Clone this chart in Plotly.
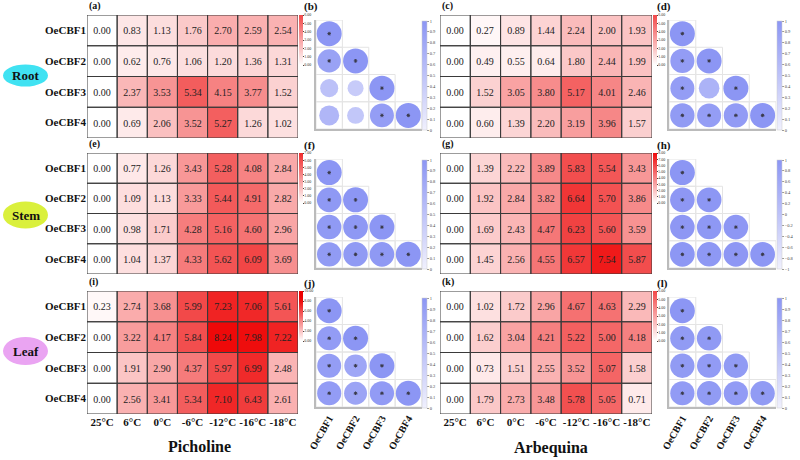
import plotly.graph_objects as go
import numpy as np

temps = ["25°C", "6°C", "0°C", "-6°C", "-12°C", "-16°C", "-18°C"]
genes = ["OeCBF1", "OeCBF2", "OeCBF3", "OeCBF4"]

# ---- expression data (rows = OeCBF1..4, cols = temps) ----
root_picholine = [[0.00, 0.83, 1.13, 1.76, 2.70, 2.59, 2.54],
                  [0.00, 0.62, 0.76, 1.06, 1.20, 1.36, 1.31],
                  [0.00, 2.37, 3.53, 5.34, 4.15, 3.77, 1.52],
                  [0.00, 0.69, 2.06, 3.52, 5.27, 1.26, 1.02]]
root_arbequina = [[0.00, 0.27, 0.89, 1.44, 2.24, 2.00, 1.93],
                  [0.00, 0.49, 0.55, 0.64, 1.80, 2.44, 1.99],
                  [0.00, 1.52, 3.05, 3.80, 5.17, 4.01, 2.46],
                  [0.00, 0.60, 1.39, 2.20, 3.19, 3.96, 1.57]]
stem_picholine = [[0.00, 0.77, 1.26, 3.43, 5.28, 4.08, 2.84],
                  [0.00, 1.09, 1.13, 3.33, 5.44, 4.91, 2.82],
                  [0.00, 0.98, 1.71, 4.28, 5.16, 4.60, 2.96],
                  [0.00, 1.04, 1.37, 4.33, 5.62, 6.09, 3.69]]
stem_arbequina = [[0.00, 1.39, 2.22, 3.89, 5.83, 5.54, 3.43],
                  [0.00, 1.92, 2.84, 3.82, 6.64, 5.70, 3.86],
                  [0.00, 1.69, 2.43, 4.47, 6.23, 5.60, 3.59],
                  [0.00, 1.45, 2.56, 4.55, 6.57, 7.54, 5.87]]
leaf_picholine = [[0.23, 2.74, 3.68, 5.99, 7.23, 7.06, 5.61],
                  [0.00, 3.22, 4.17, 5.84, 8.24, 7.98, 7.22],
                  [0.00, 1.91, 2.90, 4.37, 5.97, 6.99, 2.48],
                  [0.00, 2.56, 3.41, 5.34, 7.10, 6.43, 2.61]]
leaf_arbequina = [[0.00, 1.02, 1.72, 2.96, 4.67, 4.63, 2.29],
                  [0.00, 1.62, 3.04, 4.21, 5.22, 5.00, 4.18],
                  [0.00, 0.73, 1.51, 2.55, 3.52, 5.07, 1.58],
                  [0.00, 1.79, 2.73, 3.48, 5.78, 5.05, 0.71]]

# colorbar maxima of the heatmaps
zmax_values = {"a": 6, "c": 6, "e": 7, "g": 8, "i": 10, "k": 6}
zmax_dtick = {"a": 1, "c": 1, "e": 1, "g": 1, "i": 2, "k": 1}

# ---- correlation data (lower triangle incl. diagonal) ----
corr_b = [[1.0], [0.87, 1.0], [0.52, 0.41, 1.0], [0.64, 0.46, 0.92, 1.0]]
sig_b = [[1], [1, 1], [0, 0, 1], [0, 0, 1, 1]]
corr_d = [[1.0], [0.93, 1.0], [0.92, 0.68, 1.0], [0.95, 0.92, 0.94, 1.0]]
sig_d = [[1], [1, 1], [1, 0, 1], [1, 1, 1, 1]]
corr_f = [[1.0], [0.97, 1.0], [0.96, 0.98, 1.0], [0.95, 0.96, 0.97, 1.0]]
sig_f = [[1], [1, 1], [1, 1, 1], [1, 1, 1, 1]]
corr_h = [[1.0], [0.97, 0.98], [0.97, 0.96, 0.97], [0.98, 0.96, 0.97, 0.98]]
sig_h = [[1], [1, 1], [1, 1, 1], [1, 1, 1, 1]]
corr_j = [[1.0], [0.93, 1.0], [0.92, 0.82, 1.0], [0.93, 0.84, 0.94, 1.0]]
sig_j = [[1], [1, 1], [1, 1, 1], [1, 1, 1, 1]]
corr_l = [[1.0], [0.95, 0.96], [0.95, 0.94, 0.95], [0.94, 0.95, 0.94, 0.95]]
sig_l = [[1], [1, 1], [1, 1, 1], [1, 1, 1, 1]]
corr_ranges = {"b": (0, 1, 0.1), "d": (0, 1, 0.1), "f": (0, 1, 0.1),
               "h": (-1, 1, 0.2), "j": (0, 1, 0.1), "l": (0, 1, 0.1)}

W, H = 800, 460
SERIF = "Liberation Serif, Times New Roman, serif"


def px(x):
    return x / W


def py(y):
    return 1 - y / H


def red_scale(zmax):
    stops = []
    for f in np.linspace(0, 1, 11):
        t = min(f * zmax / 8.4, 1.0)
        r = 255 - 18 * t
        g = 255 * (1 - t)
        stops.append([float(f), f"rgb({r:.0f},{g:.0f},{g:.0f})"])
    return stops


BLUE = [[0, "rgb(240,240,253)"], [1, "rgb(140,150,244)"]]

rows = ["root", "stem", "leaf"]
hm_x = {"pic": (87, 298), "arb": (440, 652)}
hm_y = {"root": (15, 138), "stem": (153, 274), "leaf": (291, 414)}
cr_x = {"pic": (316, 421.5), "arb": (669, 776)}
cr_y = {"root": (20, 129), "stem": (159, 268), "leaf": (297, 407)}

heat = {("root", "pic"): ("a", root_picholine), ("root", "arb"): ("c", root_arbequina),
        ("stem", "pic"): ("e", stem_picholine), ("stem", "arb"): ("g", stem_arbequina),
        ("leaf", "pic"): ("i", leaf_picholine), ("leaf", "arb"): ("k", leaf_arbequina)}
corr = {("root", "pic"): ("b", corr_b, sig_b), ("root", "arb"): ("d", corr_d, sig_d),
        ("stem", "pic"): ("f", corr_f, sig_f), ("stem", "arb"): ("h", corr_h, sig_h),
        ("leaf", "pic"): ("j", corr_j, sig_j), ("leaf", "arb"): ("l", corr_l, sig_l)}

fig = go.Figure()
layout = {}
shapes = []
annotations = []
ax = 0

for row in rows:
    for cv in ["pic", "arb"]:
        # ---------- heatmap ----------
        ax += 1
        xa = "x" if ax == 1 else f"x{ax}"
        ya = "y" if ax == 1 else f"y{ax}"
        letter, z = heat[(row, cv)]
        zmax = zmax_values[letter]
        x0, x1 = hm_x[cv]
        y0, y1 = hm_y[row]
        fig.add_trace(go.Heatmap(
            z=z, x=list(range(7)), y=list(range(4)), xaxis=xa, yaxis=ya,
            zmin=0, zmax=zmax, colorscale=red_scale(zmax),
            texttemplate="%{z:.2f}",
            textfont=dict(family=SERIF, size=10, color="#222"),
            hoverinfo="skip",
            colorbar=dict(x=px(x1 + 1), xanchor="left", y=py(y0), yanchor="top",
                          len=50 / H, thickness=4, xpad=0, ypad=0, outlinewidth=0,
                          tickvals=list(np.arange(0, zmax + 0.01, zmax_dtick[letter])),
                          tickformat=".2f", ticks="outside", ticklen=1, tickwidth=0.5,
                          tickfont=dict(size=4, family=SERIF, color="#333")),
        ))
        layout["xaxis" if ax == 1 else f"xaxis{ax}"] = dict(
            domain=[px(x0), px(x1)], anchor=ya, range=[-0.5, 6.5], automargin=False,
            showgrid=False, zeroline=False, showline=False, ticks="",
            tickvals=list(range(7)), ticktext=temps, showticklabels=(row == "leaf"),
            tickfont=dict(family=SERIF, size=11, color="#111", weight="bold"))
        layout["yaxis" if ax == 1 else f"yaxis{ax}"] = dict(
            domain=[py(y1), py(y0)], anchor=xa, range=[3.5, -0.5], automargin=False,
            showgrid=False, zeroline=False, showline=False, ticks="",
            tickvals=list(range(4)), ticktext=genes, showticklabels=(cv == "pic"),
            tickfont=dict(family=SERIF, size=11, color="#111", weight="bold"))
        for i in range(4):
            for j in range(7):
                shapes.append(dict(type="rect", xref=xa, yref=ya,
                                   x0=j - 0.5, x1=j + 0.5, y0=i - 0.5, y1=i + 0.5,
                                   line=dict(color="#3a3a3a", width=1), layer="above"))
        annotations.append(dict(text=f"<b>({letter})</b>", x=px(x0), y=py(y0 - 1),
                                xref="paper", yref="paper", xanchor="left", yanchor="bottom",
                                showarrow=False, font=dict(family=SERIF, size=10, color="#111")))

        # ---------- correlation plot ----------
        ax += 1
        xa = f"x{ax}"
        ya = f"y{ax}"
        letter, r, sig = corr[(row, cv)]
        cmin, cmax, cdt = corr_ranges[letter]
        cx0, cx1 = cr_x[cv]
        cy0, cy1 = cr_y[row]
        xs, ys, vals, sx, sy = [], [], [], [], []
        for i in range(4):
            for j in range(i + 1):
                xs.append(j)
                ys.append(i)
                vals.append(r[i][j])
                if sig[i][j]:
                    sx.append(j)
                    sy.append(i)
                shapes.append(dict(type="rect", xref=xa, yref=ya,
                                   x0=j - 0.5, x1=j + 0.5, y0=i - 0.5, y1=i + 0.5,
                                   line=dict(color="#e4e4e4", width=1), layer="below"))
        fig.add_trace(go.Scatter(
            x=xs, y=ys, xaxis=xa, yaxis=ya, mode="markers", hoverinfo="skip",
            marker=dict(size=[25 * np.sqrt(abs(v)) for v in vals], color=vals,
                        colorscale=BLUE, cmin=cmin, cmax=cmax, line=dict(width=0),
                        opacity=1, showscale=True,
                        colorbar=dict(x=px(cx1 + 1), xanchor="left", y=py(cy0 + 1),
                                      yanchor="top", len=(cy1 - cy0) / H, thickness=5,
                                      xpad=0, ypad=0, outlinewidth=0.5, outlinecolor="#ccc",
                                      tickvals=[round(v, 1) for v in np.arange(cmin, cmax + 0.001, cdt)],
                                      ticks="outside", ticklen=2, tickwidth=0.5, tickcolor="#999",
                                      tickfont=dict(size=4.5, family=SERIF, color="#444")))))
        fig.add_trace(go.Scatter(
            x=sx, y=sy, xaxis=xa, yaxis=ya, mode="markers", hoverinfo="skip",
            marker=dict(symbol="asterisk-open", size=3, color="#3a3a4a",
                        line=dict(color="#3a3a4a", width=1))))
        layout[f"xaxis{ax}"] = dict(
            domain=[px(cx0), px(cx1)], anchor=ya, range=[-0.5, 3.5], automargin=False,
            showgrid=False, zeroline=False, showline=True, linecolor="#bbb", linewidth=1.5,
            ticks="", tickvals=list(range(4)), ticktext=genes,
            showticklabels=(row == "leaf"), tickangle=-60,
            tickfont=dict(family=SERIF, size=10, color="#111", weight="bold"))
        layout[f"yaxis{ax}"] = dict(
            domain=[py(cy1), py(cy0)], anchor=xa, range=[3.5, -0.5], automargin=False,
            showgrid=False, zeroline=False, showline=True, linecolor="#bbb", linewidth=1.5,
            ticks="", showticklabels=False)
        annotations.append(dict(text=f"<b>({letter})</b>", x=px(cx0 - 14), y=py(cy0 - 5),
                                xref="paper", yref="paper", xanchor="left", yanchor="bottom",
                                showarrow=False, font=dict(family=SERIF, size=11, color="#111")))

# tissue ellipses
tissues = [("Root", "rgb(64,226,242)", 75.5, 22), ("Stem", "rgb(218,240,60)", 215, 27),
           ("Leaf", "rgb(234,164,242)", 351, 28)]
for name, col, cy, h in tissues:
    shapes.append(dict(type="circle", xref="paper", yref="paper",
                       x0=px(3), x1=px(48), y0=py(cy + h / 2), y1=py(cy - h / 2),
                       fillcolor=col, line=dict(width=0), layer="below"))
    annotations.append(dict(text=f"<b>{name}</b>", x=px(25.5), y=py(cy), xref="paper",
                            yref="paper", xanchor="center", yanchor="middle", showarrow=False,
                            font=dict(family=SERIF, size=13, color="#111")))

for name, cx, cy in [("Picholine", 199, 446), ("Arbequina", 551, 448)]:
    annotations.append(dict(text=f"<b>{name}</b>", x=px(cx), y=py(cy), xref="paper",
                            yref="paper", xanchor="center", yanchor="middle", showarrow=False,
                            font=dict(family=SERIF, size=16, color="#111")))

fig.update_layout(**layout)
fig.update_layout(width=W, height=H, margin=dict(l=0, r=0, t=0, b=0, autoexpand=False),
                  paper_bgcolor="white", plot_bgcolor="white", showlegend=False,
                  shapes=shapes, annotations=annotations)
fig.write_html("out.html", config={"displayModeBar": False},
               post_script="document.body.style.margin='0';document.body.style.overflow='hidden';")
